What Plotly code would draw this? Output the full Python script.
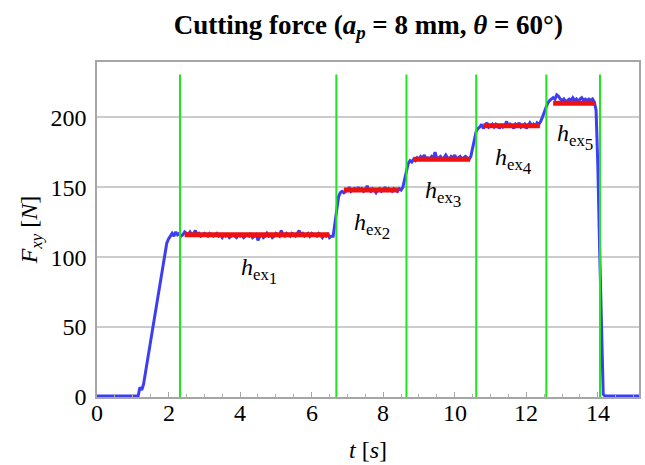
import plotly.graph_objects as go

# ---------------- data ----------------
SAMPLE_STEP = 0.05  # s, sampling interval of the force signal

# measured force signal F_xy [N], split into segments with their start times [s]
idle_start_t0 = 0.0
idle_start = [0.7, 0.7, 0.7, 0.7, 0.7, 0.7, 0.7, 0.7, 0.7, 0.7, 0.7, 0.7,
              0.7, 0.7, 0.7, 0.7, 0.7, 0.7, 0.7, 0.7, 0.7, 0.7, 0.7, 0.7]
rise1_t0 = 1.20
rise1 = [7, 5, 9, 17, 25, 33, 41, 49, 57, 65, 73, 81, 89, 97, 104, 110, 113, 115]
plat1_t0 = 2.10
plat1 = [117, 115, 118, 116, 117, 115, 116, 118, 117, 116,
         118, 116, 117, 119, 116, 117, 115, 116, 117, 116,
         115, 117, 116, 115, 116, 117, 115, 116, 114, 116,
         115, 116, 114, 115, 116, 115, 114, 116, 115, 116,
         114, 115, 116, 115, 117, 114, 115, 116, 112, 115,
         116, 114, 115, 117, 115, 116, 114, 115, 117, 116,
         115, 119, 116, 115, 117, 116, 115, 117, 116, 115,
         117, 119, 116, 117, 115, 116, 117, 115, 117, 116,
         116, 115, 117, 116, 114, 116, 115, 117, 114, 115,
         115]
rise2_t0 = 6.65
rise2 = [124, 135, 143, 146, 147]
plat2_t0 = 6.90
plat2 = [146, 147, 148, 150, 147, 148, 149, 147, 150, 148,
         149, 147, 148, 151, 148, 147, 149, 148, 146, 148,
         149, 147, 148, 150, 147, 149, 148, 147, 149, 148,
         147, 149, 148, 150]
rise3_t0 = 8.60
rise3 = [156, 162, 167, 169]
plat3_t0 = 8.80
plat3 = [168, 170, 169, 171, 170, 172, 171, 173, 170, 171,
         170, 172, 171, 175, 170, 171, 172, 170, 171, 173,
         171, 170, 172, 171, 173, 170, 171, 172, 170, 171,
         172, 171, 170, 172]
rise4_t0 = 10.50
rise4 = [178, 186, 190, 192]
plat4_t0 = 10.70
plat4 = [193, 195, 192, 194, 196, 193, 194, 195, 193, 195,
         194, 192, 195, 193, 194, 197, 193, 195, 194, 192,
         195, 194, 196, 193, 194, 195, 192, 194, 196, 194,
         195, 193, 196, 195, 197]
rise5_t0 = 12.45
rise5 = [200, 204, 207, 210, 212]
plat5_t0 = 12.70
plat5 = [213, 214, 213, 216, 215, 213, 212, 213, 211, 212,
         213, 212, 214, 212, 213, 211, 213, 214, 212, 213,
         212, 213, 212, 213, 211]
drop_t0 = 13.95
drop = [205, 165, 105, 40, 2]
idle_end_t0 = 14.20
idle_end = [0.7, 0.7, 0.7, 0.7, 0.7, 0.7, 0.7, 0.7, 0.7, 0.7,
            0.7, 0.7, 0.7, 0.7, 0.7, 0.7, 0.7, 0.7, 0.7, 0.7]

# mean-force segments (red) for each uncut chip thickness h_ex
mean_t_start = [2.45, 6.90, 8.85, 10.80, 12.75]
mean_t_end = [6.49, 8.43, 10.43, 12.38, 13.91]
mean_force = [116, 148, 170, 194, 210]

# section boundaries (green)
boundary_t = [2.32, 6.69, 8.65, 10.60, 12.56, 14.06]
boundary_top = 230.5

# labels
label_text = ["1", "2", "3", "4", "5"]
label_t = [4.52, 7.68, 9.66, 11.63, 13.36]
label_f = [90, 122, 145, 169, 186]

x_ticks = [0, 2, 4, 6, 8, 10, 12, 14]
y_ticks = [0, 50, 100, 150, 200]

# ---------------- build the signal ----------------
segments = [(idle_start_t0, idle_start), (rise1_t0, rise1), (plat1_t0, plat1),
            (rise2_t0, rise2), (plat2_t0, plat2), (rise3_t0, rise3),
            (plat3_t0, plat3), (rise4_t0, rise4), (plat4_t0, plat4),
            (rise5_t0, rise5), (plat5_t0, plat5), (drop_t0, drop),
            (idle_end_t0, idle_end)]
sig_t, sig_f = [], []
for t0, vals in segments:
    for k, v in enumerate(vals):
        sig_t.append(round(t0 + k * SAMPLE_STEP, 3))
        sig_f.append(v)

SERIF = "Liberation Serif, Times New Roman, serif"
BLUE = "#3d3df2"
RED = "#ee1111"
GREEN = "#1ee61e"
FS = 24

fig = go.Figure()

fig.add_trace(go.Scatter(x=sig_t, y=sig_f, mode="lines",
                         line=dict(color=BLUE, width=3), hoverinfo="skip",
                         showlegend=False))

gx, gy = [], []
for b in boundary_t:
    gx += [b, b, None]
    gy += [0, boundary_top, None]
fig.add_trace(go.Scatter(x=gx, y=gy, mode="lines",
                         line=dict(color=GREEN, width=2), hoverinfo="skip",
                         showlegend=False))

rx, ry = [], []
for a, b, f in zip(mean_t_start, mean_t_end, mean_force):
    rx += [a, b, None]
    ry += [f, f, None]
fig.add_trace(go.Scatter(x=rx, y=ry, mode="lines",
                         line=dict(color=RED, width=5), hoverinfo="skip",
                         showlegend=False))

for s, x, y in zip(label_text, label_t, label_f):
    fig.add_annotation(
        x=x, y=y,
        text="<i>h</i><sub>ex<sub><span style='font-size:17px'>" + s + "</span></sub></sub>",
        showarrow=False, font=dict(family=SERIF, size=FS, color="black"))

# x tick labels, placed on the x scale just below the frame
for v in x_ticks:
    fig.add_annotation(x=v, xref="x", y=0, yref="paper", yanchor="top", yshift=-1,
                       text=str(v), showarrow=False,
                       font=dict(family=SERIF, size=FS, color="black"))

fig.update_layout(
    width=645, height=465,
    margin=dict(l=97, r=4, t=62, b=68),
    paper_bgcolor="white", plot_bgcolor="white",
    title=dict(text="<b>Cutting force (<i>a</i><sub><i>p</i></sub> = 8 mm, <i>θ</i> = 60°)</b>",
               x=0.571, xanchor="center", y=0.948, yanchor="middle",
               font=dict(family=SERIF, size=27, color="black")),
    font=dict(family=SERIF, color="black"),
)

fig.update_xaxes(range=[0, 15.15], tickvals=x_ticks, showticklabels=False,
                 showgrid=False, zeroline=False,
                 showline=True, linecolor="#a6a6a6", linewidth=1.5, mirror=True,
                 ticks="inside", ticklen=5, tickcolor="#a6a6a6", tickwidth=1,
                 minor=dict(ticks="inside", dtick=0.5, ticklen=3, tickcolor="#b0b0b0"),
                 title=dict(text="<i>t</i> [<i>s</i>]", standoff=43,
                            font=dict(family=SERIF, size=FS, color="black")))
fig.update_yaxes(range=[0, 239.5], tickvals=y_ticks, ticktext=[str(v) for v in y_ticks],
                 tickfont=dict(family=SERIF, size=FS, color="black"),
                 showgrid=True, gridcolor="#cccccc", gridwidth=1.5, zeroline=False,
                 showline=True, linecolor="#a6a6a6", linewidth=1.5, mirror=True,
                 ticks="", ticklabelstandoff=4,
                 title=dict(text="<i>F</i><sub><i>xy</i></sub> [<i>N</i>]", standoff=6,
                            font=dict(family=SERIF, size=FS, color="black")))

fig.write_html("out.html")
